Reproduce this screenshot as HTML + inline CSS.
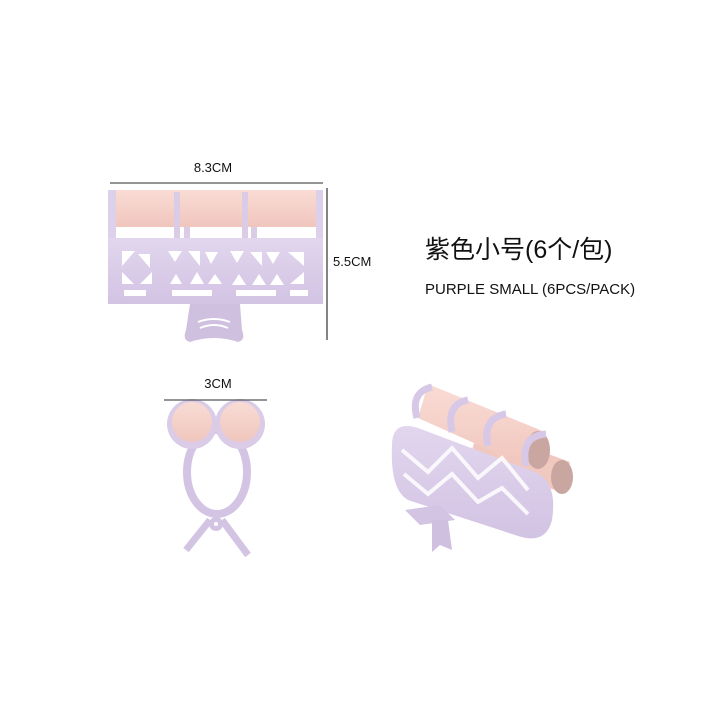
<!DOCTYPE html>
<html><head><meta charset="utf-8"><style>
html,body{margin:0;padding:0;background:#fff}
svg{display:block}
text{font-family:"Liberation Sans","Noto Sans CJK SC",sans-serif;fill:#111}
</style></head><body>
<svg width="720" height="720" viewBox="0 0 720 720" xmlns="http://www.w3.org/2000/svg">
<defs>
<linearGradient id="pk" x1="0" y1="0" x2="0" y2="1"><stop offset="0" stop-color="#f9dcd5"/><stop offset="1" stop-color="#f0c6bd"/></linearGradient>
<linearGradient id="pu" x1="0" y1="0" x2="0" y2="1"><stop offset="0" stop-color="#e2d6ee"/><stop offset="1" stop-color="#d2c3e3"/></linearGradient>
</defs>
<!-- top clip -->
<text x="213" y="172" font-size="13" text-anchor="middle">8.3CM</text>
<line x1="110" y1="183" x2="323" y2="183" stroke="#555" stroke-width="1.2"/>
<line x1="327" y1="188" x2="327" y2="340" stroke="#333" stroke-width="1.2"/>
<text x="333" y="266" font-size="13">5.5CM</text>
<rect x="112" y="190" width="208" height="37" fill="url(#pk)"/>
<rect x="108" y="190" width="8" height="60" fill="#ddd0ea"/>
<rect x="316" y="190" width="7" height="60" fill="#ddd0ea"/>
<rect x="174" y="192" width="6" height="58" fill="#dacbe7"/>
<rect x="242" y="192" width="6" height="58" fill="#dacbe7"/>
<rect x="184" y="227" width="6" height="22" fill="#dacbe7"/>
<rect x="251" y="227" width="6" height="22" fill="#dacbe7"/>
<rect x="108" y="238" width="215" height="66" fill="url(#pu)"/>
<g fill="#fff">
<polygon points="122,251 135,251 122,266"/><polygon points="138,254 150,254 150,268"/>
<polygon points="122,284 134,284 122,272"/><polygon points="140,284 152,284 152,272"/>
<polygon points="168,251 182,251 175,262"/><polygon points="188,251 200,251 200,266"/><polygon points="205,252 218,252 211,264"/>
<polygon points="170,284 182,284 176,274"/><polygon points="190,284 204,284 197,272"/><polygon points="208,284 222,284 215,274"/>
<polygon points="230,251 244,251 237,263"/><polygon points="250,252 262,252 262,266"/><polygon points="266,252 280,252 273,264"/>
<polygon points="232,285 246,285 239,274"/><polygon points="252,285 266,285 259,274"/><polygon points="270,285 284,285 277,274"/>
<polygon points="288,252 304,252 304,266"/><polygon points="290,284 304,284 304,272"/>
<rect x="124" y="290" width="22" height="6"/><rect x="172" y="290" width="40" height="6"/><rect x="236" y="290" width="40" height="6"/><rect x="290" y="290" width="18" height="6"/>
</g>
<path d="M190,304 L240,304 L242,330 Q246,340 238,342 Q214,334 190,342 Q182,340 186,330 Z" fill="#cfc0e0"/>
<path d="M198,322 Q214,316 230,322 M200,328 Q214,322 228,328" stroke="#fff" stroke-width="2" fill="none"/>
<!-- Text -->
<text x="425" y="258" font-size="25" fill="#111">紫色小号(6个/包)</text>
<text x="425" y="294" font-size="15">PURPLE SMALL (6PCS/PACK)</text>
<!-- bottom left -->
<text x="218" y="388" font-size="13" text-anchor="middle">3CM</text>
<ellipse cx="217" cy="472" rx="30" ry="42" fill="none" stroke="#d3c4e4" stroke-width="8"/>
<circle cx="192" cy="424" r="25" fill="#dacbe7"/>
<circle cx="240" cy="424" r="25" fill="#dacbe7"/>
<circle cx="192" cy="422" r="20" fill="url(#pk)"/>
<circle cx="240" cy="422" r="20" fill="url(#pk)"/>
<line x1="164" y1="400" x2="267" y2="400" stroke="#555" stroke-width="1.2"/>
<path d="M210,520 L186,550 M222,520 L248,555" stroke="#d3c4e4" stroke-width="7" fill="none"/>
<circle cx="216" cy="524" r="7" fill="#d3c4e4"/><circle cx="216" cy="524" r="2" fill="#fff"/>
<!-- bottom right -->
<g>
<polygon points="478,428 570,462 560,492 470,458" fill="#f0c8bf"/>
<ellipse cx="562" cy="477" rx="11" ry="17" fill="#c9a69f"/>
<polygon points="428,384 545,432 530,468 418,418" fill="url(#pk)"/>
<ellipse cx="538" cy="450" rx="12" ry="19" fill="#c9a69f"/>
<path d="M417,418 Q410,392 432,387 M452,432 Q446,404 468,400 M488,446 Q482,418 506,414 M526,466 Q520,436 546,434" stroke="#d6c8e6" stroke-width="7" fill="none"/>
<path d="M392,445 Q392,420 418,428 L535,472 Q558,482 552,520 Q546,545 518,536 L408,500 Q390,490 392,445 Z" fill="url(#pu)"/>
<g stroke="#fff" stroke-width="4" fill="none" opacity=".85">
<path d="M402,450 L428,472 L452,448 L478,478 L502,458 L528,490"/>
<path d="M404,474 L428,494 L452,474 L478,502 L502,488 L528,514"/>
</g>
<path d="M405,510 L440,505 L455,520 L420,525 Z" fill="#d3c4e4"/>
<path d="M432,520 L448,520 L452,550 L440,545 L432,552 Z" fill="#cfc0e0"/>
</g>
</svg>
</body></html>
